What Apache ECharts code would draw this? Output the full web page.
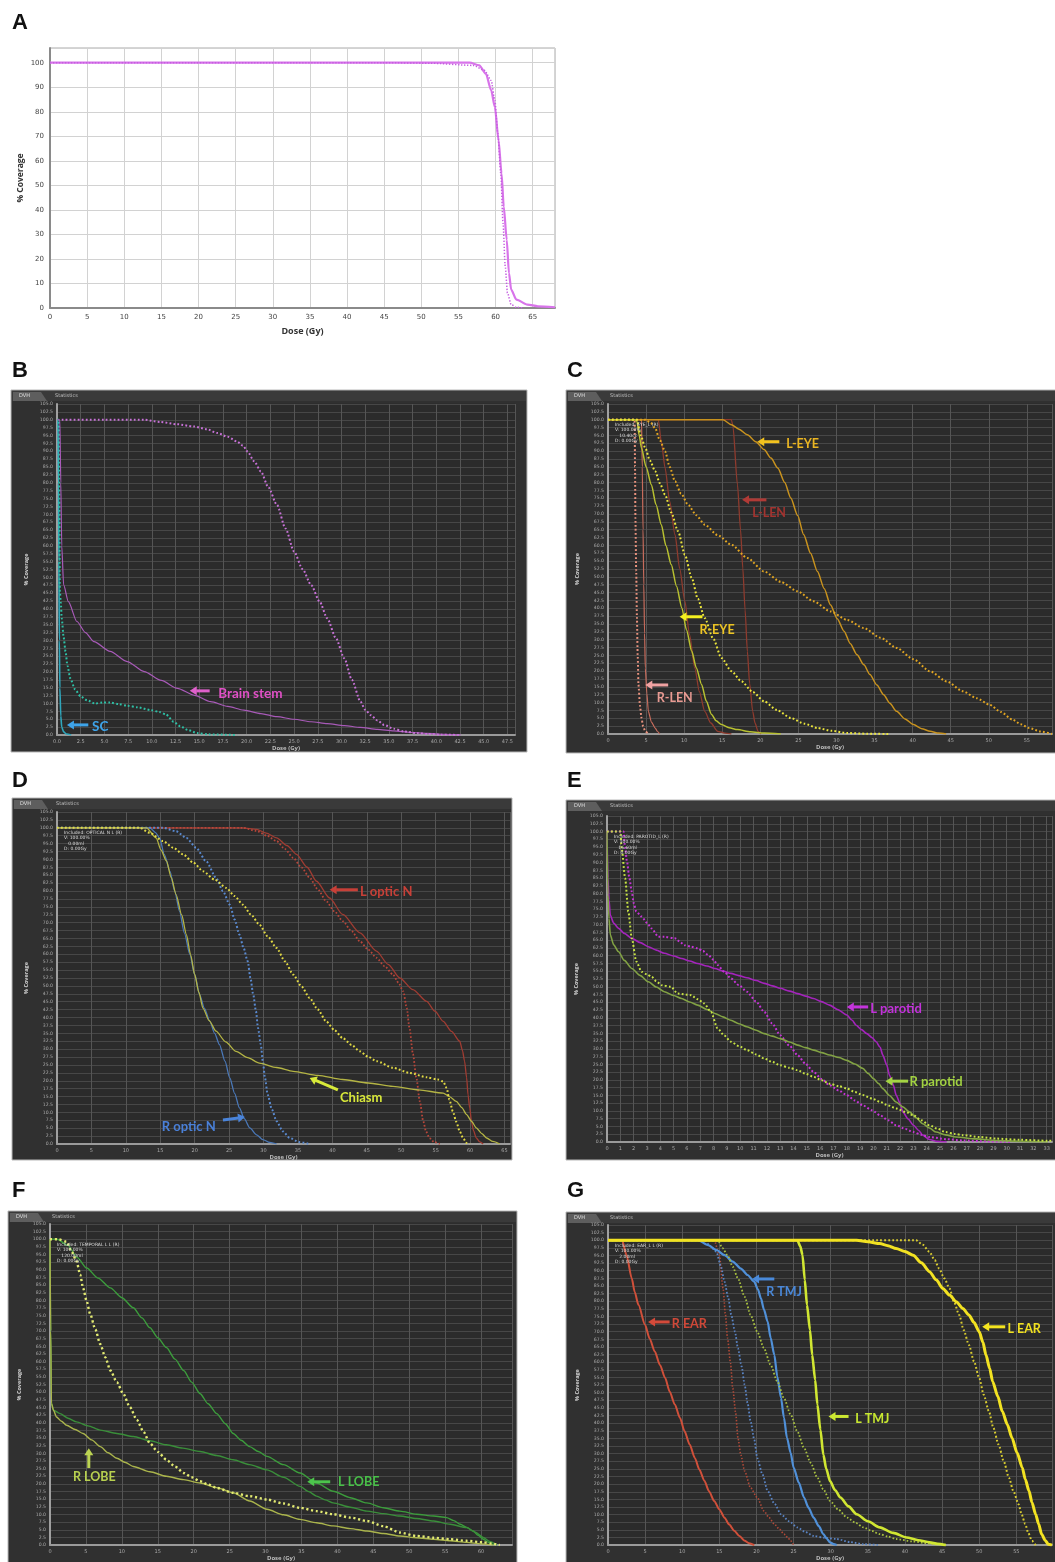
<!DOCTYPE html>
<html><head><meta charset="utf-8">
<script src="https://cdn.jsdelivr.net/npm/echarts@6/dist/echarts.min.js"></script>
<style>html,body{margin:0;padding:0;background:#fff}#c{width:1055px;height:1562px}</style>
</head><body><div id="c"></div>
<script>
// ---------------- DATA (dose Gy, % coverage) ----------------
const A_solid = [[0,100],[50,100],[56.5,100],[57.8,98.9],[58.7,95.5],[59.4,88.8],[59.9,82],[60.4,68.4],[60.8,54.9],[61.1,41.3],[61.5,27.8],[61.8,14.2],[62.1,7.5],[62.8,3.4],[64.3,1.4],[65.7,0.7],[68,0.3]];
const A_dotted = [[0,100],[45,100],[51.2,99.8],[57,98.9],[58.5,96.9],[59.4,92.8],[59.9,84.7],[60.3,71.1],[60.7,54.9],[61,34.6],[61.3,16.9],[61.6,6.1],[62.1,1.4],[62.8,0.3],[63.8,0]];

const B_scSolid = [[0,100],[0.1,100],[0.15,80],[0.2,55],[0.25,30],[0.3,15],[0.4,6],[0.5,2.5],[0.7,1],[1,0.3],[1.5,0]];
const B_scDotted = [[0,100],[0.2,100],[0.3,46],[0.4,42],[0.5,37],[0.7,31],[0.9,26.5],[1.1,22],[1.4,18],[1.9,14.5],[2.5,12.2],[3.2,11],[4,10],[4.8,10.3],[5.6,10.3],[6.5,9.8],[7.4,9.3],[8.5,8.8],[9.9,7.9],[10.8,7.3],[11.5,6.5],[12.3,4.2],[13,2.8],[13.8,1.6],[14.8,0.6],[16,0.2],[19,0]];
const B_bsSolid = [[0,100],[0.3,100],[0.4,80],[0.5,60],[0.7,47.6],[1.2,42.3],[2.1,36],[3,32.5],[3.9,29.6],[5.6,26.5],[7.4,23.3],[9.2,20.1],[11,17.3],[12.7,14.8],[14.5,12.6],[16.2,10.6],[18,9.1],[19.7,7.9],[21.5,6.8],[23.2,5.8],[25,5],[26.8,4.2],[28.5,3.6],[30.3,3.0],[32,2.4],[33.8,1.8],[35.5,1.3],[37.3,0.8],[39,0.5],[40.8,0.2],[42.6,0]];
const B_bsDotted = [[0.5,100],[5,100],[9.2,100],[10.9,99.3],[12.6,98.6],[14.4,97.9],[15.8,97],[16.9,95.8],[18,94.6],[19,93.1],[19.6,91.8],[20.1,89.9],[20.8,86.8],[21.5,83.6],[22.3,78.5],[23.2,73],[24.1,65.5],[25,58.2],[25.9,52.6],[26.8,47.6],[27.7,42.3],[28.5,37],[29.4,30.8],[30.3,24.3],[31.1,17.5],[32,10.6],[32.5,8],[33.1,6.3],[33.8,4.6],[34.5,3.2],[35.5,2],[36.6,1.1],[38,0.6],[39.1,0.3],[40.5,0.1],[42.6,0]];

const C_lEyeSolid = [[0,100],[10,100],[15.1,100],[16.2,98.4],[17.2,97],[18.3,95.2],[19.4,93],[20.5,90.5],[21.4,87.8],[22.3,84.6],[23.2,80],[24,75.1],[24.9,69.5],[25.7,63.4],[26.6,57.5],[27.5,51.7],[28.4,46.2],[29.2,41.1],[30.1,36.7],[31,32.7],[31.8,28.8],[32.7,25.2],[33.6,22],[34.4,18.9],[35.3,15.6],[36.2,12.5],[37,9.8],[37.9,7.2],[39,4.8],[40.1,3],[41.2,1.7],[42.3,0.85],[43.4,0.3],[44.4,0]];
const C_lEyeDotted = [[0,100],[4.9,100],[5.6,99],[6.2,97.3],[6.8,93.5],[7.5,89.9],[8.1,85],[8.8,80.4],[9.6,76.5],[10.5,73],[11.6,69.6],[12.7,66.6],[14.4,63.3],[16.2,60.2],[18.3,56],[20.5,51.7],[22.7,48.4],[24.9,45.4],[27,42.2],[29.2,39],[31.4,36.3],[33.6,33.7],[35.8,30.6],[37.9,27.4],[40.1,23.8],[42.3,19.9],[44.5,16.7],[46.6,13.6],[48.4,11.4],[50.1,9.3],[51.6,7],[53.1,4.6],[54.2,3.1],[55.3,1.9],[56.8,0.8],[58.3,0]];
const C_rEyeSolid = [[0,100],[3.5,100],[3.8,99.5],[4.1,95],[4.4,91],[5,85],[5.7,79.3],[6.3,73],[7,66.6],[7.6,60],[8.3,53.9],[9,47],[9.7,40.1],[10.3,33.2],[11,26.3],[11.6,21],[12.3,15.7],[12.9,10.5],[13.6,6.2],[14.2,4.2],[14.9,3],[15.9,2],[17,1.4],[18.7,0.7],[20.5,0.3],[22.7,0]];
const C_rEyeDotted = [[0,100],[3.8,100],[4.3,95],[4.9,91],[5.5,87],[6.2,83.6],[6.8,79.8],[7.5,76.1],[8.3,70.5],[9.2,64.5],[10.1,57],[11,49.6],[11.8,43],[12.7,36.9],[13.8,30.4],[14.9,24.2],[16.2,20],[17.5,16.8],[19,13.4],[20.5,10.4],[22.2,7.6],[24,5.1],[25.8,3.3],[27.5,1.9],[29.4,1],[31.4,0.3],[34,0.1],[37,0]];
const C_lLenA = [[0,100],[6.6,100],[7,93],[7.5,84.6],[8.1,74],[8.8,63.4],[9.4,52.8],[10.1,42.2],[10.7,31.6],[11.4,21],[12,13.5],[12.7,7.2],[13.5,3.5],[14.4,0.85],[15.3,0.3],[16.2,0]];
const C_lLenB = [[0,100],[16.2,100],[16.4,98],[17,79.3],[17.4,65],[17.7,52.8],[18,39.5],[18.3,26.3],[18.6,16],[19,7.2],[19.3,3.5],[19.7,0.85],[20.1,0]];
const C_rLenDotted = [[0,100],[3.5,100],[3.55,85],[3.6,68.7],[3.7,52],[3.8,36.9],[3.9,25],[4,15.7],[4.2,9],[4.4,5.1],[4.6,2.5],[4.9,0.85],[5.3,0]];
const C_rLenSolid = [[0,100],[4.4,100],[4.5,85],[4.6,65],[4.7,47.5],[4.8,32],[4.9,21],[5.1,13],[5.3,7.2],[5.7,3.8],[6.2,1.9],[6.5,0.8],[6.8,0]];

const D_lOpticDotted = [[0,100],[27,100],[29,99],[30.5,97.5],[31.9,95.8],[33.1,93.3],[34.3,90.5],[35.5,87.5],[36.7,84.2],[37.9,80.5],[39.1,76.8],[40.3,73.6],[41.5,70.5],[42.8,67.3],[44,64.1],[45.2,61.5],[46.4,58.9],[47.6,56.2],[48.8,53.6],[49.6,51],[50.3,48.3],[50.8,43],[51.2,36.7],[51.7,28.5],[52.2,20.9],[52.7,13.5],[53.2,7.2],[53.6,4],[54.1,1.9],[54.8,0.6],[55.6,0]];
const D_lOpticSolid = [[0,100],[27,100],[29,99.5],[30.4,98.3],[31.9,96.8],[33.4,94.4],[34.8,91.6],[36.3,87.6],[37.7,83.1],[39.6,77.8],[41.5,72.6],[44,66.8],[46.4,61],[48.1,56.8],[49.8,52.5],[51.7,48.8],[53.7,45.1],[54.9,42],[56.1,38.8],[57.3,35.6],[58.5,32.5],[58.9,29.5],[59.2,26.2],[59.5,21],[59.7,15.6],[59.95,11.4],[60.2,7.2],[60.5,4.2],[60.9,1.9],[61.4,0.7],[61.9,0]];
const D_chiasmDotted = [[0,100],[12,100],[13.5,98.4],[15.4,95.8],[16.9,93.7],[18.3,91.6],[19.8,89],[21.2,86.3],[22.9,83.6],[24.6,81],[25.8,78.4],[27,75.7],[28.2,72.5],[29.4,69.4],[30.6,65.7],[31.9,62],[33.1,57.8],[34.3,53.6],[35.5,49.9],[36.7,46.2],[37.9,42.5],[39.1,38.8],[40.3,36],[41.5,33.5],[42.8,31.3],[44,29.3],[45.2,27.6],[46.4,26.2],[48.8,24.1],[51.2,22.5],[53.7,21.1],[55.3,20.4],[56.1,19.8],[56.6,17.7],[57,14],[57.5,10.3],[58,7],[58.5,4],[59,1.8],[59.5,0.3],[60,0]];
const D_chiasmSolid = [[0,100],[13,100],[14.4,96.8],[15.1,93],[15.9,89.5],[16.6,84.2],[17.3,78.9],[18.1,72.5],[18.8,66.2],[19.4,59.9],[20,53.6],[20.6,48],[21.2,43],[22.1,39],[23.1,35.7],[24.5,32.3],[26,29.3],[27.7,27.3],[29.4,25.6],[31.9,24.2],[34.3,23],[37.9,21.7],[41.5,20.4],[45.2,19.3],[48.8,18.2],[52.5,17.1],[56.1,16.1],[57,15],[58,13.5],[58.8,11.5],[59.5,9.3],[60.2,7.2],[60.9,5.1],[61.7,3.3],[62.4,1.9],[63.3,0.8],[64.3,0]];
const D_rOpticDotted = [[0,100],[15.4,100],[17.3,98.9],[18.8,96.8],[20.2,93.7],[21.7,89.3],[23.1,84.2],[24.1,80],[25.1,75.7],[25.8,71],[26.5,66.2],[27.1,62],[27.7,57.8],[28.1,52.5],[28.5,47.3],[28.9,42],[29.2,36.7],[29.6,31.5],[29.9,26.2],[30.2,21],[30.6,15.6],[31.2,11],[31.9,7.2],[32.8,4],[33.8,1.9],[35.2,0.6],[36.7,0]];
const D_rOpticSolid = [[0,100],[13.5,100],[14.3,98.5],[14.9,96.8],[15.6,91.5],[16.4,86.3],[17.1,80],[17.8,73.6],[18.5,66.8],[19.3,59.9],[20,53.6],[20.7,47.3],[21.4,43],[22.2,38.8],[22.9,35],[23.6,31.4],[24.4,26.2],[25.1,20.9],[25.8,16],[26.5,11.4],[27.2,8],[28,5.1],[29,2.9],[29.9,1.4],[30.9,0.5],[31.9,0]];

const E_lParSolid = [[0,100],[0.07,85],[0.15,78],[0.25,73],[0.5,70.5],[0.87,68.8],[1.3,67.2],[1.86,65.6],[2.5,64.2],[3.1,62.9],[3.7,61.8],[4.3,60.8],[5,59.9],[5.6,59.1],[6.2,58.3],[6.8,57.5],[7.5,56.7],[8.1,55.9],[8.7,55.1],[9.3,54.3],[9.9,53.6],[10.5,52.9],[11.2,52],[11.8,51.1],[12.4,50.3],[13,49.5],[13.7,48.6],[14.3,47.8],[14.9,47],[15.5,46.2],[16.1,45.2],[16.7,44.1],[17.3,42.7],[18,40.9],[18.4,39.2],[18.7,37.6],[19.1,36.2],[19.5,34.9],[19.9,33.6],[20.2,32.3],[20.5,30.5],[20.7,28],[21,24.8],[21.2,21.5],[21.5,18.3],[21.7,15.1],[22,12.4],[22.2,9.7],[22.6,7.4],[23,5.4],[23.4,3.7],[23.7,2.2],[24.2,0.8],[24.8,0.2],[25.5,0]];
const E_lParDotted = [[0,100],[1.24,100],[1.35,95],[1.5,90.3],[1.68,85],[1.86,80.6],[2,77],[2.2,74.2],[2.6,72.6],[3,70.6],[3.35,68.8],[3.85,66.1],[4.3,66.1],[5.1,65.6],[5.5,64.4],[5.8,63.4],[6.3,62.9],[6.8,62.4],[7.2,61.5],[7.6,60.2],[8,58.7],[8.3,57],[8.8,54.8],[9.3,52.7],[9.9,50.5],[10.5,48.4],[11.2,45.2],[11.8,41.9],[12.4,38.2],[13,34.4],[13.7,31],[14.3,28],[14.9,25.2],[15.5,22.6],[16.1,20.3],[16.7,18.3],[17.4,16.6],[18,15.1],[18.6,13.4],[19.2,11.8],[19.9,10.2],[20.5,8.6],[21.1,7],[21.7,5.4],[22.4,4.2],[23,3.2],[23.6,2.3],[24.2,1.6],[25.5,0.9],[26.7,0.5],[28.5,0.2],[30.4,0]];
const E_rParSolid = [[0,100],[0.07,79.6],[0.15,72],[0.25,66.7],[0.5,63.5],[0.87,61.3],[1.3,58.5],[1.86,55.9],[2.5,53.6],[3.1,51.6],[3.7,49.9],[4.3,48.4],[5,47.2],[5.6,46.2],[6.2,45.1],[6.8,44.1],[7.5,42.7],[8.1,41.4],[8.7,40.3],[9.3,39.2],[9.9,38.1],[10.5,37.1],[11.2,36],[11.8,34.9],[12.4,34.1],[13,33.3],[13.7,32.2],[14.3,31.2],[14.9,30.4],[15.5,29.6],[16.1,28.8],[16.7,28],[17.4,27.2],[18,26.3],[18.6,25.1],[19.2,23.7],[19.6,22.1],[20,20.4],[20.4,18.8],[20.7,17.2],[21.2,15],[21.7,12.9],[22.2,11.3],[22.7,9.7],[23.2,7.8],[23.7,5.9],[24.2,4.5],[24.7,3.2],[25.4,2.3],[26.2,1.6],[27.7,1],[29.2,0.5],[31,0.2],[33.1,0]];
const E_rParDotted = [[0,100],[1,100],[1.1,94.6],[1.36,85],[1.6,74.2],[1.86,65.6],[2.2,58.1],[2.6,54.8],[3,54],[3.35,53.2],[3.7,51.8],[4.1,50.5],[4.8,50],[5.3,47.8],[6.3,47.3],[6.8,46],[7.3,44.6],[7.8,41.9],[8.3,36.6],[8.8,34.3],[9.3,32.3],[9.9,30.9],[10.5,29.6],[11.2,28.2],[11.8,26.9],[12.4,25.8],[13,24.7],[13.7,23.9],[14.3,23.1],[14.9,22],[15.5,21],[16.1,19.9],[16.7,18.8],[17.4,18],[18,17.2],[18.6,16.1],[19.2,15.1],[19.9,14],[20.5,12.9],[21.1,11.8],[21.7,10.8],[22.4,9.7],[23,8.6],[23.6,7],[24.2,5.4],[24.8,4.3],[25.4,3.2],[26.1,2.6],[26.7,2.2],[28,1.6],[29.2,1.1],[31,0.7],[33.1,0.4],[33.4,0.4]];

const F_lLobeA = [[0,100],[1,100],[2.5,98],[3.8,94],[5.1,90.6],[6.7,87.3],[8.4,84.1],[10,80.9],[11.6,77.6],[12.8,74.3],[13.9,71.1],[15,67.8],[16.2,64.6],[17.4,60.8],[18.6,57.1],[19.7,53.3],[20.9,49.5],[22,46.2],[23.2,43],[24.4,39.7],[25.5,36.5],[26.6,34.3],[27.8,32.2],[29,30.6],[30.2,29],[32.5,26.3],[34.8,23.6],[37.1,20.3],[39.4,17.6],[41.8,15.5],[44.1,13.8],[46.4,12.2],[48.7,11.1],[51,10.1],[53.4,9.5],[55.2,9],[56.2,8],[57.1,6.8],[58,5.8],[58.9,4.6],[59.6,3.2],[60.3,1.9],[61,0.9],[61.7,0]];
const F_lLobeB = [[0,100],[0.1,70],[0.2,46.3],[0.5,44.1],[1.4,43],[2.5,41.5],[3.7,40.3],[5.3,39],[7,37.6],[9.3,36.5],[11.6,35.5],[13.9,34.1],[16.2,32.8],[18.5,31.7],[20.9,30.6],[23.2,29.3],[25.5,27.9],[27.8,26.3],[30.2,24.6],[32.5,22.2],[34.8,19.2],[36,17.5],[37.1,16],[38.3,14.8],[39.4,13.8],[41.8,12.4],[44.1,11.1],[46.4,10.3],[48.7,9.5],[51,8.7],[53.4,7.9],[55.7,6.8],[58,5.7],[59.2,4.2],[60.3,2.5],[61.2,1.2],[62.2,0]];
const F_rLobeDotted = [[0,100],[1.2,100],[2.3,99.2],[3,96],[3.7,92.8],[4.2,88.5],[4.6,84.1],[5.1,79.8],[5.6,75.5],[6.3,70.6],[7,65.7],[7.7,61.4],[8.4,57.1],[9.3,53.3],[10.2,49.5],[11.1,45.2],[12.1,40.9],[13,37.1],[13.9,33.3],[15,30.5],[16.2,27.9],[17.4,25.7],[18.6,23.6],[19.7,22.2],[20.9,20.9],[22,19.8],[23.2,18.7],[25.5,17.1],[27.8,16],[30.2,14.9],[32.5,13.6],[34.8,12.2],[37.1,11.1],[39.4,10.1],[41.8,9],[44.1,7.9],[46.4,6.2],[48.7,4.1],[51,3],[53.4,2.4],[55.7,1.9],[58,1.4],[60.3,0.9],[61.5,0.5],[62.6,0]];
const F_rLobeSolid = [[0,100],[0.1,70],[0.2,46.3],[0.5,44],[0.9,41.9],[1.6,40.5],[2.3,39.2],[3.5,37.8],[4.6,36.5],[5.8,34.4],[7,32.2],[8.1,30.2],[9.3,28.4],[10.5,27],[11.6,25.7],[13.9,24],[16.2,22.5],[18.6,21.4],[20.9,20.3],[23.2,18.8],[25.5,17.1],[27.8,14.4],[30.2,11.7],[32.5,9.9],[34.8,8.4],[37.1,7.3],[39.4,6.3],[41.8,5.4],[44.1,4.6],[46.4,3.8],[48.7,3],[51,2.4],[53.4,1.9],[55.7,1.4],[58,0.9],[60,0.4],[61.7,0]];

const G_rEarSolid = [[0,100],[1.9,100],[2.5,95.1],[3.2,87.5],[3.6,83],[4.1,78.8],[5,72.2],[5.6,67.8],[6.3,63.5],[7,59.1],[7.7,54.8],[8.3,50.4],[9,46.1],[9.7,41.7],[10.3,37.4],[11,33],[11.7,28.6],[12.3,24.8],[13,21],[13.6,17.7],[14.3,14.5],[15,11.7],[15.7,9],[16.3,6.8],[17,4.7],[17.7,3],[18.4,1.4],[19,0.6],[19.7,0]];
const G_rEarDotted = [[0,100],[14.3,100],[15,95.1],[15.5,84.2],[15.8,76],[16.1,67.9],[16.5,59.7],[16.8,51.5],[17.2,43.3],[17.5,35.2],[17.9,29.5],[18.4,24.3],[19.2,18.8],[20.1,15.6],[21,11.2],[21.7,9],[22.4,6.9],[23.1,5.2],[23.7,3.6],[24.2,2.5],[24.6,1.4],[25,0]];
const G_rTmjSolid = [[0,100],[12.1,100],[13.5,98.4],[14.6,96.8],[15.7,95.1],[16.8,93],[17.9,90.7],[18.8,88.6],[19.7,86.4],[20.2,83.8],[20.6,80.9],[21,77.3],[21.5,73.3],[21.9,68],[22.4,62.4],[22.8,55.3],[23.3,48.3],[23.7,41.8],[24.1,35.2],[24.6,30.3],[25,25.4],[25.7,20.5],[26.4,15.6],[27,12.3],[27.7,9],[28.4,6.2],[29,3.6],[29.5,2],[29.9,0.9],[30.4,0.3],[30.8,0]];
const G_rTmjDotted = [[0,100],[13,100],[13.8,98],[14.6,96.2],[15.2,91.5],[15.7,86.4],[16.2,81],[16.6,75.5],[17.1,70],[17.5,64.6],[18,58.6],[18.4,52.6],[18.8,46.6],[19.2,40.6],[19.7,34.6],[20.1,28.6],[20.8,23.2],[21.5,17.8],[22.4,13.7],[23.3,10.1],[24.4,7.8],[25.5,5.8],[26.6,4.3],[27.7,3],[29.2,2.4],[30.8,2],[32.6,1],[34.4,0.3],[36.6,0]];
const G_lTmjSolid = [[0,100],[25.5,100],[25.9,98],[26.2,95.1],[26.5,87],[26.8,78.8],[27.2,70.6],[27.5,62.4],[27.9,54.2],[28.2,46.1],[28.6,37.9],[29,29.7],[29.4,25],[29.9,21],[30.6,18],[31.3,15.6],[32.4,12.7],[33.5,10.1],[35,7.8],[36.6,5.8],[38.4,4],[40.2,2.5],[41.8,1.6],[43.3,0.9],[44.4,0.4],[45.5,0]];
const G_lTmjDotted = [[0,100],[14.8,100],[15.4,97.5],[16.1,95.1],[16.8,91.3],[17.5,87.5],[18.4,81.5],[19.2,75.5],[20.1,70],[21,64.6],[21.9,59.1],[22.8,53.7],[23.7,48.2],[24.6,42.8],[25.5,37.3],[26.4,31.9],[27.3,27],[28.2,22.1],[29,18.3],[29.9,14.5],[31,11.7],[32.2,9],[33.3,7.4],[34.4,5.8],[35.5,4.7],[36.6,3.6],[37.7,2.8],[38.8,2],[41,1.2],[43.3,0.5],[44.6,0]];
const G_lEarSolid = [[0,100],[33.5,100],[35,99.5],[36.6,98.9],[37.7,98.2],[38.8,97.3],[40,96.3],[41.1,95.1],[42.2,92.6],[43.3,89.7],[44.2,87],[45.1,84.2],[46,82],[46.9,79.8],[47.8,77.6],[48.6,75.5],[49.3,73],[50,70],[50.5,66.5],[50.9,62.4],[51.4,58],[51.8,53.7],[52.5,48.8],[53.1,43.9],[53.8,39.5],[54.4,35.2],[55.1,30.3],[55.8,25.4],[56.2,21.6],[56.7,17.8],[57.1,14],[57.6,10.1],[58,6.9],[58.4,3.6],[58.9,1.5],[59.3,0.3],[59.8,0]];
const G_lEarDotted = [[0,100],[41.5,100],[42.4,98.5],[43.3,96.2],[44,93.5],[44.6,90.7],[45.3,87.5],[46,84.2],[46.6,79.8],[47.3,75.5],[47.9,70.6],[48.6,65.7],[49.3,60.2],[50,54.8],[50.6,49.3],[51.3,43.9],[51.9,38.5],[52.6,33],[53.3,27.5],[54,22.1],[54.6,17.7],[55.3,13.4],[55.7,10.1],[56.2,6.9],[56.6,4],[57.1,1.4],[57.6,0]];

const panelLetters = ['A','B','C','D','E','F','G'];
const infoLines = {
  2:['Included: EYE_L (R)','V: 100.00%','   10.40cc','D: 0.00Gy'],
  3:['Included: OPTICAL N L (R)','V: 100.00%','   0.00ml','D: 0.00Gy'],
  4:['Included: PAROTID_L (R)','V: 100.00%','   16.60ml','D: 0.00Gy'],
  5:['Included: TEMPORAL L L (R)','V: 100.00%','   120.00ml','D: 0.00Gy'],
  6:['Included: EAR_L L (R)','V: 100.00%','   2.00ml','D: 0.00Gy']
};

// ---------------- LAYOUT / STYLE ----------------
const layout = [
  {left:50,  top:48,   width:505, height:260, xmax:68,   xint:5,   xdec:0, letter:[12,12]},
  {left:57,  top:404,  width:458, height:331, xmax:48.3, xint:2.5, xdec:1, frame:[11,390,516,362],  letter:[12,360]},
  {left:608, top:404,  width:447, height:330, xmax:58.3, xint:5,   xdec:0, frame:[566,390,500,363], letter:[567,360]},
  {left:57,  top:812,  width:453, height:332, xmax:65.8, xint:5,   xdec:0, frame:[12,798,500,362],  letter:[12,770]},
  {left:607, top:816,  width:448, height:326, xmax:33.4, xint:1,   xdec:0, frame:[566,800,500,360], letter:[567,770]},
  {left:50,  top:1224, width:462, height:324, xmax:64.3, xint:5,   xdec:0, frame:[8,1211,509,360],  letter:[12,1180]},
  {left:608, top:1225, width:447, height:321, xmax:59.8, xint:5,   xdec:0, frame:[566,1212,500,360],letter:[567,1180]}
];

const seriesDefs = [
  [0, A_solid, '#d874ea', 2.2, 0],
  [0, A_dotted, '#c45fe0', 1.5, 1],
  [1, B_scSolid, '#2fa6bc', 1.6, 0],
  [1, B_scDotted, '#2ec0a6', 2, 1],
  [1, B_bsSolid, '#a85ab8', 1.2, 0],
  [1, B_bsDotted, '#c872d8', 2, 1],
  [2, C_lLenA, '#8e3b2e', 1.3, 0],
  [2, C_lLenB, '#8e3b2e', 1.3, 0],
  [2, C_rLenSolid, '#c86c5c', 1.2, 0],
  [2, C_rLenDotted, '#e8927e', 2, 1],
  [2, C_lEyeSolid, '#c8921e', 1.5, 0],
  [2, C_lEyeDotted, '#e2a622', 2, 1],
  [2, C_rEyeSolid, '#b8c030', 1.5, 0],
  [2, C_rEyeDotted, '#ece63c', 2, 1],
  [3, D_lOpticSolid, '#a03c32', 1.3, 0],
  [3, D_lOpticDotted, '#b8463a', 1.8, 1],
  [3, D_rOpticSolid, '#4a78b8', 1.3, 0],
  [3, D_rOpticDotted, '#5a8ad0', 2, 1],
  [3, D_chiasmSolid, '#b4b444', 1.3, 0],
  [3, D_chiasmDotted, '#e2da44', 2, 1],
  [4, E_lParSolid, '#a424bc', 1.6, 0],
  [4, E_lParDotted, '#c634d8', 2, 1],
  [4, E_rParSolid, '#82a244', 1.6, 0],
  [4, E_rParDotted, '#c8e444', 2, 1],
  [5, F_lLobeA, '#3c9c3c', 1.4, 0],
  [5, F_lLobeB, '#3a8e3a', 1.4, 0],
  [5, F_rLobeSolid, '#aab44c', 1.4, 0],
  [5, F_rLobeDotted, '#e2ea72', 2.4, 1],
  [6, G_rEarSolid, '#d0503a', 2, 0],
  [6, G_rEarDotted, '#b04a38', 1.6, 1],
  [6, G_rTmjDotted, '#5a84c4', 1.8, 1],
  [6, G_rTmjSolid, '#5090d8', 2.2, 0],
  [6, G_lTmjDotted, '#a8c040', 1.8, 1],
  [6, G_lTmjSolid, '#d0e632', 2.6, 0],
  [6, G_lEarDotted, '#d8cc30', 2, 1],
  [6, G_lEarSolid, '#f2e222', 3, 0]
];

const annotations = [
  {g:1, text:'Brain stem', at:[17.0,13.0], tail:[16.1,14.0], tip:[14.0,14.0], color:'#e060cc', tcolor:'#e050c6', fs:13.5},
  {g:1, text:'SC', at:[3.7,2.5], tail:[3.3,3.2], tip:[1.05,3.2], color:'#3ea4ea', tcolor:'#3ea4ea', fs:13.5},
  {g:2, text:'L-EYE', at:[23.4,92.4], tail:[22.5,93], tip:[19.6,93], color:'#f2c21e', tcolor:'#eab522', fs:12.5},
  {g:2, text:'L-LEN', at:[18.95,70.4], tail:[20.8,74.5], tip:[17.6,74.5], color:'#b03a36', tcolor:'#a33430', fs:12.5},
  {g:2, text:'R-EYE', at:[12.0,33.1], tail:[12.4,37.3], tip:[9.4,37.3], color:'#f4f020', tcolor:'#ecc424', fs:12.5},
  {g:2, text:'R-LEN', at:[6.4,11.5], tail:[7.9,15.6], tip:[4.9,15.6], color:'#f0a2a2', tcolor:'#e89a92', fs:12.5},
  {g:3, text:'L optic N', at:[44.0,79.7], tail:[43.7,80.4], tip:[39.6,80.4], color:'#c84038', tcolor:'#c84038', fs:13},
  {g:3, text:'Chiasm', at:[41.1,14.6], tail:[40.8,17.1], tip:[36.7,20.9], color:'#d8ea3a', tcolor:'#d8e83a', fs:13},
  {g:3, text:'R optic N', at:[15.2,5.4], tail:[24.1,7.6], tip:[27.3,8.5], color:'#4a84da', tcolor:'#4a80d8', fs:13},
  {g:4, text:'L parotid', at:[19.75,42.8], tail:[19.6,43.5], tip:[18.0,43.5], color:'#c434dc', tcolor:'#c232da', fs:13},
  {g:4, text:'R parotid', at:[22.7,19.3], tail:[22.6,19.6], tip:[20.9,19.6], color:'#a4d444', tcolor:'#a2d242', fs:13},
  {g:5, text:'R LOBE', at:[3.2,22.3], tail:[5.4,25.2], tip:[5.4,31.7], color:'#bcd452', tcolor:'#b8d050', fs:12.5},
  {g:5, text:'L LOBE', at:[40.1,20.7], tail:[39,20.7], tip:[35.8,20.7], color:'#4cc44c', tcolor:'#48c048', fs:12.5},
  {g:6, text:'R TMJ', at:[21.3,83], tail:[22.4,87.3], tip:[19.4,87.3], color:'#4a8ada', tcolor:'#4a88d8', fs:12.5},
  {g:6, text:'R EAR', at:[8.6,72.5], tail:[8.3,73.2], tip:[5.4,73.2], color:'#d44a3a', tcolor:'#d04838', fs:12.5},
  {g:6, text:'L TMJ', at:[33.3,41.5], tail:[32.4,42.2], tip:[29.7,42.2], color:'#cce832', tcolor:'#c8e830', fs:12.5},
  {g:6, text:'L EAR', at:[53.8,70.9], tail:[53.5,71.6], tip:[50.4,71.6], color:'#f4e420', tcolor:'#f0e020', fs:12.5}
];

// ---------------- BUILD ----------------
function fmt(interval, dec){
  return function(v){
    const r = v / interval;
    return Math.abs(r - Math.round(r)) < 1e-6 ? v.toFixed(dec) : '';
  };
}

const grids = [], xAxes = [], yAxes = [], series = [];
layout.forEach((L, i) => {
  const dark = i > 0;
  grids.push({left:L.left, top:L.top, width:L.width, height:L.height, show:true,
    backgroundColor: dark ? '#2b2b2b' : '#ffffff',
    borderColor: dark ? '#2b2b2b' : '#aaaaaa', borderWidth: 1, containLabel:false});
  xAxes.push({type:'value', gridIndex:i, min:0, max:L.xmax, interval:L.xint,
    name:'Dose (Gy)', nameLocation:'middle', nameGap: dark ? 9 : 19,
    nameTextStyle: dark ? {fontSize:6, color:'#bdbdbd', fontFamily:'Open Sans', fontWeight:'bold'} : {fontSize:9, color:'#333', fontWeight:'bold', fontFamily:'Open Sans'},
    axisLine:{show:true, onZero:false, lineStyle:{color: dark ? '#9a9a9a' : '#8a8a8a', width:2}},
    axisTick:{show:false},
    axisLabel:{show:true, fontSize: dark ? 5 : 7, color: dark ? '#a8a8a8' : '#444', margin: dark ? 4 : 6, formatter: fmt(L.xint, L.xdec), fontFamily:'DejaVu Sans'},
    splitLine:{show:true, lineStyle:{color: dark ? '#555555' : '#d2d2d2', width:1}}
  });
  yAxes.push({type:'value', gridIndex:i, min:0, max: dark ? 105 : 106, interval: dark ? 2.5 : 10,
    name:'% Coverage', nameLocation:'middle', nameRotate:90, nameGap: dark ? 28 : 25,
    nameTextStyle: dark ? {fontSize:5.5, color:'#d4d4d4', fontWeight:'bold', fontFamily:'Open Sans'} : {fontSize:8.5, color:'#333', fontWeight:'bold', fontFamily:'Open Sans'},
    axisLine:{show:true, lineStyle:{color: dark ? '#a0a0a0' : '#8a8a8a', width:2}},
    axisTick:{show:false},
    axisLabel:{show:true, fontSize: dark ? 4.6 : 7, color: dark ? '#a8a8a8' : '#444', margin: dark ? 4 : 6,
      formatter: dark ? fmt(2.5,1) : fmt(10,0), fontFamily:'DejaVu Sans'},
    splitLine:{show:true, lineStyle:{color: dark ? '#474747' : '#d2d2d2', width:1}}
  });
});

seriesDefs.forEach(d => {
  series.push({type:'line', xAxisIndex:d[0], yAxisIndex:d[0], data:d[1], showSymbol:false, symbol:'none',
    smooth:0.25, smoothMonotone:'x', silent:true, animation:false, clip:true,
    lineStyle:{color:d[2], width:d[3], type: d[4] ? [d[3]*0.9, d[3]*1.1] : 'solid', cap:'butt'}});
});

const chart = echarts.init(document.getElementById('c'), null, {renderer:'canvas'});
chart.setOption({animation:false, backgroundColor:'#ffffff', grid:grids, xAxis:xAxes, yAxis:yAxes, series:series});

// graphics: frames, tabs, letters, info text, annotations
const gr = [];
layout.forEach((L, i) => {
  gr.push({type:'text', left:L.letter[0], top:L.letter[1], z:100,
    style:{text:panelLetters[i], font:'bold 22px "Liberation Sans", Arial, sans-serif', fill:'#111'}});
  if (!L.frame) return;
  const [fx, fy, fw, fh] = L.frame;
  gr.push({type:'rect', shape:{x:fx, y:fy, width:fw, height:fh}, z:-20,
    style:{fill:'#303030', stroke:'#b8b8b8', lineWidth:1}});
  gr.push({type:'rect', shape:{x:fx+1, y:fy+1, width:fw-2, height:10}, z:-19, style:{fill:'#3a3a3a'}});
  gr.push({type:'polygon', shape:{points:[[fx+2,fy+11],[fx+2,fy+2],[fx+30,fy+2],[fx+36,fy+11]]}, z:-18, style:{fill:'#5e5e5e'}});
  gr.push({type:'text', x:fx+8, y:fy+3, z:-17, style:{text:'DVH', font:'5px "DejaVu Sans"', fill:'#e0e0e0'}});
  gr.push({type:'text', x:fx+44, y:fy+3, z:-17, style:{text:'Statistics', font:'5px "DejaVu Sans"', fill:'#c0c0c0'}});
  if (infoLines[i]) {
    infoLines[i].forEach((t, k) => {
      gr.push({type:'text', x:L.left+7, y:L.top+18+k*5.6, z:60,
        style:{text:t, font:'4.5px "DejaVu Sans"', fill:'#dcdcdc'}});
    });
  }
});

annotations.forEach(a => {
  const t = chart.convertToPixel({gridIndex:a.g}, a.tail);
  const h = chart.convertToPixel({gridIndex:a.g}, a.tip);
  const dx = h[0]-t[0], dy = h[1]-t[1], len = Math.hypot(dx, dy);
  const ux = dx/len, uy = dy/len, hl = 7, hw = 4.5;
  const bx = h[0]-ux*hl, by = h[1]-uy*hl;
  gr.push({type:'line', z:100, shape:{x1:t[0], y1:t[1], x2:bx+ux*0.5, y2:by+uy*0.5}, style:{stroke:a.color, lineWidth:3}});
  gr.push({type:'polygon', z:100, shape:{points:[[h[0],h[1]],[bx-uy*hw, by+ux*hw],[bx+uy*hw, by-ux*hw]]}, style:{fill:a.color}});
  const p = chart.convertToPixel({gridIndex:a.g}, a.at);
  gr.push({type:'text', z:100, x:p[0], y:p[1],
    style:{text:a.text, fill:a.tcolor, font:'bold '+a.fs+'px Lato, "Open Sans", sans-serif', textAlign:'left', textVerticalAlign:'middle'}});
});

chart.setOption({graphic:{elements:gr}});
</script>
</body></html>
